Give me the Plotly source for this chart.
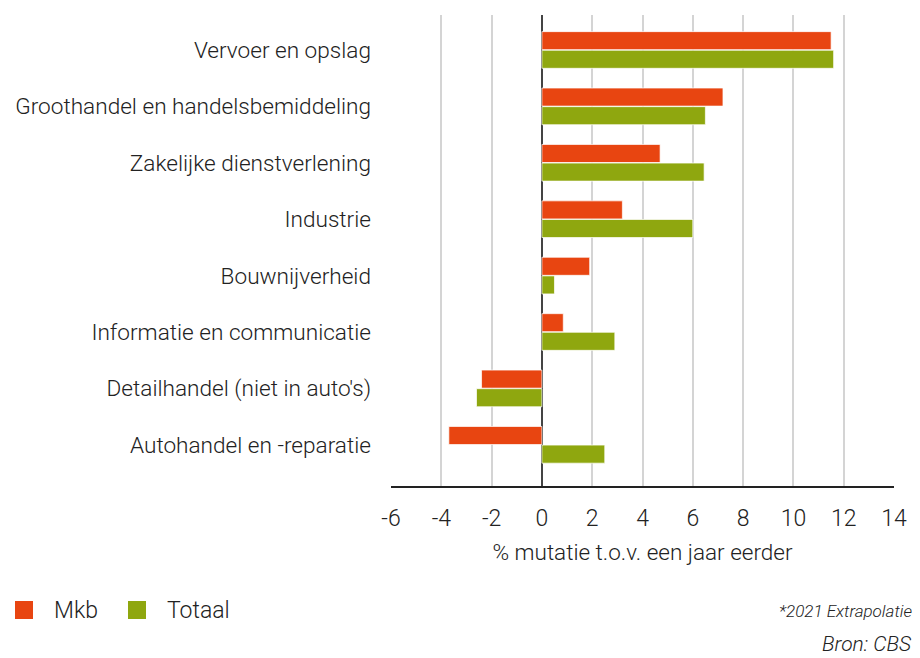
import plotly.graph_objects as go

categories = [
    "Vervoer en opslag",
    "Groothandel en handelsbemiddeling",
    "Zakelijke dienstverlening",
    "Industrie",
    "Bouwnijverheid",
    "Informatie en communicatie",
    "Detailhandel (niet in auto's)",
    "Autohandel en -reparatie",
]
mkb = [11.5, 7.2, 4.7, 3.2, 1.9, 0.85, -2.4, -3.7]
totaal = [11.6, 6.5, 6.45, 6.0, 0.5, 2.9, -2.6, 2.5]
x_tickvals = [-6, -4, -2, 0, 2, 4, 6, 8, 10, 12, 14]
x_ticktext = ["-6", "-4", "-2", "0", "2", "4", "6", "8", "10", "12", "14"]
series_names = ["Mkb", "Totaal"]

ORANGE = "#E84511"
GREEN = "#8FA70F"
FONT = "Roboto"
TXT = "#222222"

# page has an 8px body margin; figure is sized/positioned to compensate
W, H = 912, 650
L, R, T, B = 383, 886, 7, 478

fig = go.Figure()
for nm, vals, col in [(series_names[0], mkb, ORANGE), (series_names[1], totaal, GREEN)]:
    fig.add_trace(go.Bar(
        y=categories, x=vals, orientation="h", name=nm,
        marker=dict(color=col, line=dict(color="rgba(255,255,255,0.7)", width=1)),
        showlegend=False,
    ))

def px_x(p):
    return (p - L) / (R - L)

def px_y(p):
    return (B - p) / (B - T)

fig.update_layout(
    width=W, height=H, autosize=False,
    margin=dict(l=L, r=W - R, t=T, b=H - B, pad=0),
    paper_bgcolor="white", plot_bgcolor="white",
    font=dict(family=FONT, size=22, color=TXT, weight=300),
    barmode="group", bargap=0.34, bargroupgap=0.03,
    showlegend=False,
    xaxis=dict(
        range=[-6, 14], tickvals=x_tickvals, ticktext=x_ticktext,
        showgrid=True, gridcolor="#d4d4d4", gridwidth=2,
        zeroline=True, zerolinecolor="#444444", zerolinewidth=2,
        showline=True, linecolor=TXT, linewidth=2,
        ticks="", tickfont=dict(family=FONT, size=23, color=TXT, weight=300),
        ticklabelstandoff=10,
        title=dict(text="% mutatie t.o.v. een jaar eerder",
                   font=dict(family=FONT, size=22.5, color=TXT, weight=300),
                   standoff=14),
        fixedrange=True,
    ),
    yaxis=dict(
        categoryorder="array", categoryarray=categories,
        range=[7.73, -0.62],
        showgrid=False, zeroline=False, showline=False, ticks="",
        tickfont=dict(family=FONT, size=22.6, color=TXT, weight=300),
        ticklabelstandoff=19,
        fixedrange=True,
    ),
)

# legend (drawn manually to match swatch size/spacing)
legend_items = [(series_names[0], ORANGE, 7, 44), (series_names[1], GREEN, 120, 157)]
for nm, col, sx, tx in legend_items:
    fig.add_shape(type="rect", xref="paper", yref="paper",
                  x0=px_x(sx), x1=px_x(sx + 18), y0=px_y(593), y1=px_y(611),
                  fillcolor=col, line=dict(width=0))
    fig.add_annotation(text=nm, xref="paper", yref="paper",
                       x=px_x(tx), y=px_y(602), xanchor="left", yanchor="middle",
                       showarrow=False,
                       font=dict(family=FONT, size=23, color=TXT, weight=300))

fig.add_annotation(
    text="<i>*2021 Extrapolatie</i>", xref="paper", yref="paper",
    x=px_x(906), y=px_y(603), xanchor="right", yanchor="middle",
    showarrow=False, font=dict(family=FONT, size=17, color=TXT, weight=300),
)
fig.add_annotation(
    text="<i>Bron: CBS</i>", xref="paper", yref="paper",
    x=px_x(906), y=px_y(636), xanchor="right", yanchor="middle",
    showarrow=False, font=dict(family=FONT, size=21, color=TXT, weight=300),
)

fig.write_html("out.html")
